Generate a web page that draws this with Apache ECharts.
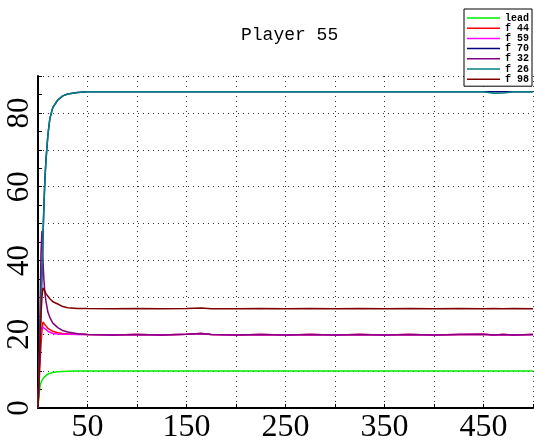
<!DOCTYPE html>
<html>
<head>
<meta charset="utf-8">
<script src="https://cdn.jsdelivr.net/npm/echarts@6/dist/echarts.min.js"></script>
<style>
  html, body { margin: 0; padding: 0; background: #fff; }
  #main { width: 534px; height: 441px; }
</style>
</head>
<body>
<div id="main"></div>
<script>
// sample steps
var steps = [0, 1, 2, 3, 4, 5, 6, 7, 8, 10, 12, 15, 20, 25, 30, 40, 50, 75, 100, 125, 150, 165, 175, 200, 225, 250, 275, 300, 325, 350, 375, 400, 425, 450, 460, 470, 480, 500];

var lead = [0, 3.5, 5.8, 6.8, 7.5, 7.9, 8.3, 8.6, 8.8, 9.2, 9.4, 9.6, 9.8, 9.9, 9.95, 10, 10, 10, 10, 10, 10, 10, 10, 10, 10, 10, 10, 10, 10, 10, 10, 10, 10, 10, 10, 10, 10, 10];
var f44 = [0, 6, 12, 17, 21, 23.3, 23, 22.6, 22.2, 21.6, 21.2, 20.8, 20.4, 20.2, 20.1, 20, 19.9, 19.8, 19.9, 19.8, 20.0, 20.2, 19.9, 19.8, 19.9, 19.8, 19.9, 19.8, 19.9, 19.8, 19.9, 19.8, 19.9, 20.0, 19.8, 19.9, 19.8, 19.9];
var f59 = [0, 9, 17, 21, 22, 22, 21.8, 21.5, 21.2, 20.8, 20.5, 20.2, 20.05, 20, 20, 19.95, 19.9, 19.8, 19.9, 19.8, 20.0, 20.2, 19.9, 19.8, 19.9, 19.8, 19.9, 19.8, 19.9, 19.8, 19.9, 19.8, 19.9, 20.0, 19.8, 19.9, 19.8, 19.9];
var f70 = [0, 8, 18, 28, 37, 46, 55, 62, 67, 74, 78.5, 81.5, 83.5, 84.6, 85.1, 85.5, 85.7, 85.7, 85.7, 85.7, 85.7, 85.7, 85.7, 85.7, 85.7, 85.7, 85.7, 85.7, 85.7, 85.7, 85.7, 85.7, 85.7, 85.7, 85.7, 85.7, 85.7, 85.7];
var f32 = [0, 10, 25, 42, 48, 40, 34.6, 31, 29, 26, 24.5, 23, 21.8, 21, 20.6, 20.1, 19.9, 19.8, 19.9, 19.8, 20.0, 20.2, 19.9, 19.8, 19.9, 19.8, 19.9, 19.8, 19.9, 19.8, 19.9, 19.8, 19.9, 20.0, 19.8, 19.9, 19.8, 19.9];
var f26 = [0, 8, 18, 28, 37, 46, 55, 62, 67, 74, 78.5, 81.5, 83.5, 84.6, 85.1, 85.5, 85.7, 85.7, 85.7, 85.7, 85.7, 85.7, 85.7, 85.7, 85.7, 85.7, 85.7, 85.7, 85.7, 85.7, 85.7, 85.7, 85.7, 85.7, 85.3, 85.4, 85.7, 85.7];
var f98 = [0, 8, 17, 25, 30, 32.6, 32.3, 31.6, 31, 30.3, 29.6, 28.8, 28.2, 27.5, 27.2, 27, 26.95, 26.9, 27.0, 26.9, 27.0, 27.1, 26.9, 26.9, 27.0, 26.9, 27.0, 26.9, 27.0, 26.9, 27.0, 26.9, 27.0, 26.9, 27.0, 26.9, 27.0, 26.9];

var names = ['lead', 'f 44', 'f 59', 'f 70', 'f 32', 'f 26', 'f 98'];
var values = [lead, f44, f59, f70, f32, f26, f98];
var colors = ['#00ee00', '#ff0000', '#ff00ff', '#000080', '#800080', '#008080', '#800000'];

var myChart = echarts.init(document.getElementById('main'));

var series = names.map(function (n, i) {
    return {
        name: n,
        type: 'line',
        symbol: 'none',
        data: steps.map(function (x, j) { return [x, values[i][j]]; }),
        lineStyle: { color: colors[i], width: 1.5 },
        itemStyle: { color: colors[i] }
    };
});

var option = {
    animation: false,
    backgroundColor: '#fff',
    title: {
        text: 'Player 55',
        left: 236,
        top: 21,
        textStyle: { fontFamily: 'Liberation Mono', fontSize: 18, fontWeight: 'normal', color: '#000' }
    },
    legend: {
        orient: 'vertical',
        left: 464,
        top: 9,
        padding: [4, 3, 2, 3],
        backgroundColor: '#fff',
        borderColor: '#000',
        borderWidth: 1,
        icon: 'rect',
        itemWidth: 33,
        itemHeight: 1.5,
        itemGap: 0.2,
        textStyle: { fontFamily: 'Liberation Mono', fontSize: 10, fontWeight: 'bold', color: '#000', lineHeight: 9 },
        data: names
    },
    grid: { left: 38, top: 76, right: 1, bottom: 33, containLabel: false, outerBoundsMode: 'none' },
    xAxis: {
        type: 'value',
        min: 0,
        max: 500,
        interval: 50,
        axisLine: { lineStyle: { color: '#000', width: 2 } },
        axisTick: { inside: true, length: 4, lineStyle: { color: '#000' } },
        axisLabel: {
            margin: 4,
            fontFamily: 'Liberation Serif',
            fontSize: 32,
            color: '#000',
            formatter: function (v) { return v % 100 === 50 ? String(v) : ''; }
        },
        splitLine: { show: true, lineStyle: { color: '#333', type: [1, 4], width: 1 } }
    },
    yAxis: {
        type: 'value',
        min: 0,
        max: 90,
        interval: 10,
        axisLine: { show: true, lineStyle: { color: '#000', width: 2 } },
        axisTick: { show: true, inside: true, length: 4, lineStyle: { color: '#000' } },
        minorTick: { show: true, splitNumber: 2, length: 4, lineStyle: { color: '#000' } },
        axisLabel: {
            rotate: 90,
            margin: 3,
            fontFamily: 'Liberation Serif',
            fontSize: 31,
            color: '#000',
            formatter: function (v) { return v % 20 === 0 ? String(v) : ''; }
        },
        splitLine: { show: true, lineStyle: { color: '#333', type: [1, 4], width: 1 } }
    },
    series: series
};
myChart.setOption(option);
</script>
</body>
</html>
